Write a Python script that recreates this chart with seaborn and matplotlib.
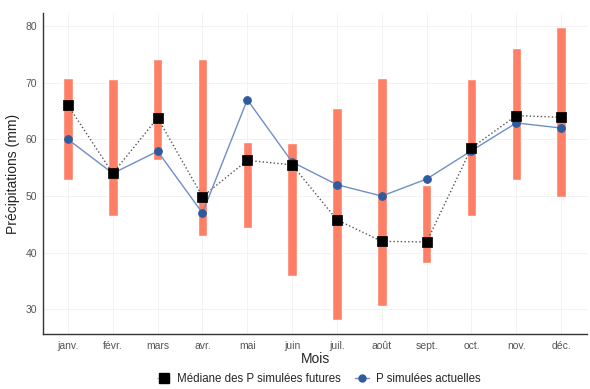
import matplotlib
matplotlib.use("Agg")
import matplotlib.pyplot as plt
from matplotlib.lines import Line2D
import numpy as np
import seaborn as sns

mois = ["janv.", "févr.", "mars", "avr.", "mai", "juin",
        "juil.", "août", "sept.", "oct.", "nov.", "déc."]
fut_min = [52.8, 46.5, 56.3, 42.9, 44.3, 35.9, 28.1, 30.6, 38.2, 46.5, 52.9, 49.8]
fut_max = [70.8, 70.7, 74.1, 74.1, 59.6, 59.3, 65.5, 70.9, 51.9, 70.7, 76.2, 79.9]
fut_median = [66.0, 54.0, 63.8, 49.9, 56.3, 55.5, 45.8, 42.0, 41.9, 58.5, 64.2, 63.9]
actuelles = [60.0, 54.0, 57.9, 47.0, 67.0, 56.0, 52.0, 50.0, 53.0, 58.0, 62.9, 62.0]

sns.set_style("white")
plt.rcParams['font.family'] = ['Liberation Sans', 'DejaVu Sans']

fig = plt.figure(figsize=(5.9, 3.89), dpi=100)
ax = fig.add_axes([0.0734, 0.1406, 0.921, 0.826])

x = np.arange(len(mois))
heights = np.array(fut_max) - np.array(fut_min)
ax.bar(x, heights, bottom=fut_min, width=0.21, color="#FF7F66", zorder=2)

sns.lineplot(x=x, y=fut_median, ax=ax, color="#555555", linestyle=":",
             linewidth=1.0, zorder=3, sort=False)
sns.lineplot(x=x, y=actuelles, ax=ax, color="#6F8FC6", linewidth=1.0,
             marker="o", markersize=5.5, markerfacecolor="#2F5A9E",
             markeredgecolor="#2F5A9E", zorder=4, sort=False)
sns.scatterplot(x=x, y=fut_median, ax=ax, marker="s", s=42, color="black",
                edgecolor="black", zorder=5)

ax.set_xlim(-0.55, 11.57)
ax.set_ylim(25.6, 82.3)
ax.set_xticks(x)
ax.set_xticklabels(mois)
ax.set_yticks([30, 40, 50, 60, 70, 80])
ax.grid(True, color="#F0F0F0", linewidth=0.6, zorder=0)
ax.set_axisbelow(True)
for s in ["top", "right"]:
    ax.spines[s].set_visible(False)
for s in ["left", "bottom"]:
    ax.spines[s].set_color("#333333")
    ax.spines[s].set_linewidth(1.0)
ax.tick_params(axis="both", colors="#555555", labelsize=7.5, length=2.5,
               width=0.6, pad=2)
ax.tick_params(axis="both", labelcolor="#555555")
ax.set_xlabel("Mois", fontsize=10, labelpad=1)
ax.set_ylabel("Précipitations (mm)", fontsize=10, labelpad=4)

handles = [
    Line2D([], [], color="#888888", linestyle=":", linewidth=0.8, marker="s",
           markersize=7, markerfacecolor="black", markeredgecolor="black"),
    Line2D([], [], color="#6F8FC6", linewidth=1.0, marker="o", markersize=5,
           markerfacecolor="#2F5A9E", markeredgecolor="#2F5A9E"),
]
fig.legend(handles, ["Médiane des P simulées futures", "P simulées actuelles"],
           loc="lower center", bbox_to_anchor=(0.54, -0.017), ncol=2,
           frameon=False, fontsize=8.3, handlelength=1.2, columnspacing=1.2,
           handletextpad=0.6)

fig.savefig("out.png", dpi=100)
